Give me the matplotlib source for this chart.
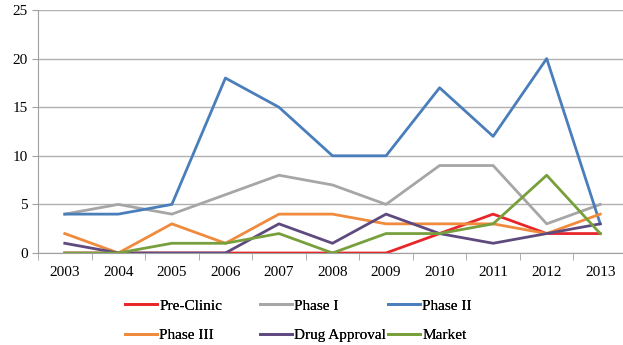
import matplotlib
matplotlib.use("Agg")
import matplotlib.pyplot as plt
from matplotlib.ticker import FixedLocator

years = [2003, 2004, 2005, 2006, 2007, 2008, 2009, 2010, 2011, 2012, 2013]
pre_clinic = [0, 0, 0, 0, 0, 0, 0, 2, 4, 2, 2]
phase_1 = [4, 5, 4, 6, 8, 7, 5, 9, 9, 3, 5]
phase_2 = [4, 4, 5, 18, 15, 10, 10, 17, 12, 20, 3]
phase_3 = [2, 0, 3, 1, 4, 4, 3, 3, 3, 2, 4]
drug_approval = [1, 0, 0, 0, 3, 1, 4, 2, 1, 2, 3]
market = [0, 0, 1, 1, 2, 0, 2, 2, 3, 8, 2]

series = [
    ("Pre-Clinic", pre_clinic, "#e8262a"),
    ("Phase I", phase_1, "#a6a6a6"),
    ("Phase II", phase_2, "#4a7ebb"),
    ("Phase III", phase_3, "#f08a3c"),
    ("Drug Approval", drug_approval, "#5f4a7f"),
    ("Market", market, "#77a03c"),
]

plt.rcParams['font.family'] = ['Liberation Serif', 'DejaVu Serif']

fig = plt.figure(figsize=(6.23, 3.45), dpi=100)
ax = fig.add_axes([38 / 623, 92 / 345, 589 / 623, 243 / 345])

handles = {}
for name, vals, col in series:
    line, = ax.plot(years, vals, color=col, lw=2.0, label=name)
    handles[name] = line

ax.set_xlim(2002.5, 2013.5)
ax.set_ylim(0, 25)
ax.set_yticks(range(0, 26, 5))
ax.set_xticks(years)
ax.xaxis.set_minor_locator(FixedLocator([y + 0.5 for y in range(2002, 2014)]))
ax.yaxis.grid(True, color="#b0b0b0", lw=1)
ax.set_axisbelow(True)

for s in ["top", "right"]:
    ax.spines[s].set_visible(False)
ax.spines["left"].set_color("#a0a0a0")
ax.spines["bottom"].set_color("#a0a0a0")
ax.tick_params(axis="x", which="major", length=0, labelsize=11, pad=9)
ax.tick_params(axis="x", which="minor", length=5, color="#a0a0a0")
ax.tick_params(axis="y", length=4, color="#a0a0a0", labelsize=11)

# legend: three columns placed by hand, two rows each
columns = [("Pre-Clinic", "Phase III"), ("Phase I", "Drug Approval"), ("Phase II", "Market")]
col_x = [125, 260, 388]
for names, x in zip(columns, col_x):
    leg = fig.legend([handles[n] for n in names], names, loc="upper left",
                     bbox_to_anchor=(x / 623, 1 - 299 / 345), frameon=False,
                     fontsize=11, handlelength=2.1, handletextpad=0.15,
                     labelspacing=1.05, borderpad=0, borderaxespad=0)
    fig.add_artist(leg)

fig.savefig("out.png", dpi=100)
